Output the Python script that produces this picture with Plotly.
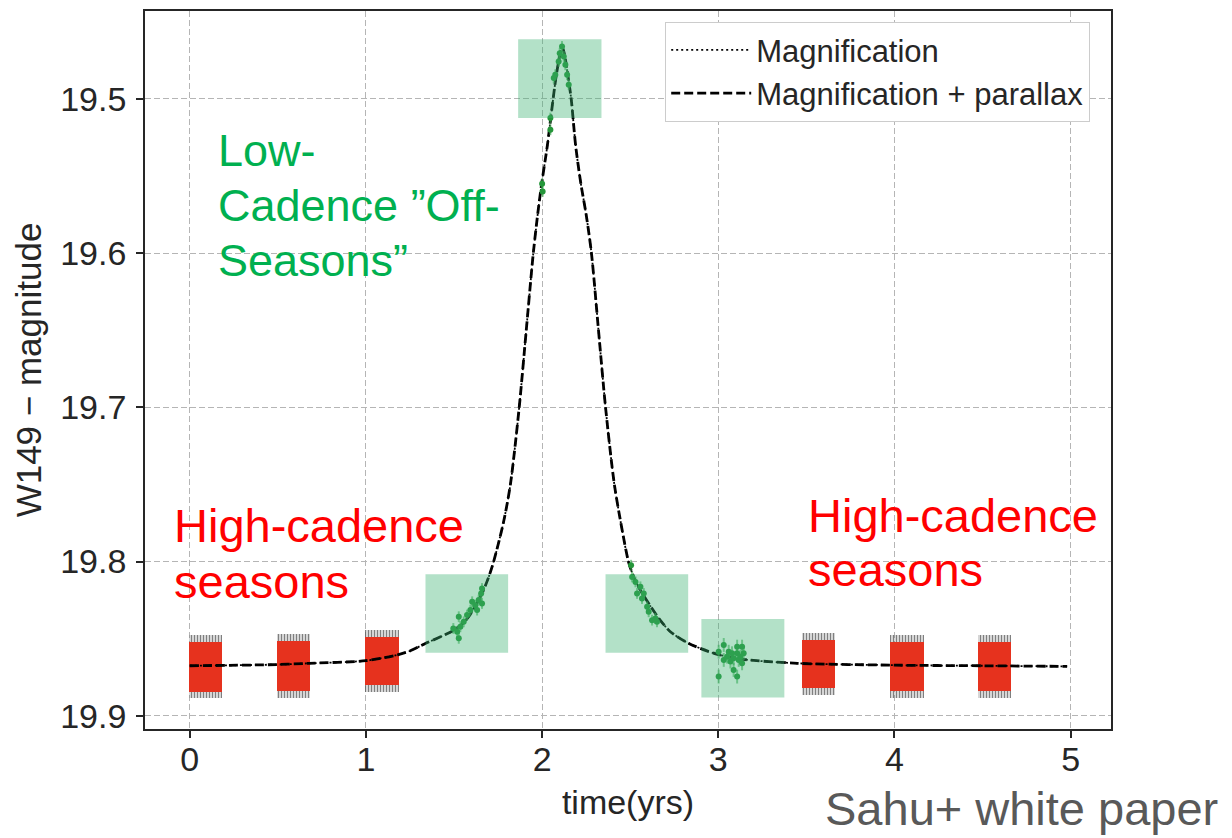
import plotly.graph_objects as go

# ---------------- data ----------------
# model light curve
curve_t = [0.00, 0.50, 0.675, 1.00, 1.18, 1.25, 1.34, 1.42, 1.50, 1.56, 1.60, 1.66, 1.70,
           1.725, 1.78, 1.82, 1.87, 1.91, 1.95, 1.98, 2.00, 2.03, 2.057, 2.08, 2.10, 2.113,
           2.125, 2.14, 2.165, 2.19, 2.22, 2.25, 2.28, 2.32, 2.36, 2.41, 2.455, 2.49, 2.52,
           2.56, 2.615, 2.67, 2.728, 2.83, 2.99, 3.14, 3.45, 4.00, 4.50, 4.98]
curve_mag = [19.8676, 19.8668, 19.8660, 19.8643, 19.8605, 19.8580, 19.8530, 19.8490, 19.8445,
             19.8390, 19.8330, 19.8205, 19.8090, 19.8000, 19.7750, 19.7500, 19.7000, 19.6500,
             19.6000, 19.5700, 19.5530, 19.5300, 19.5050, 19.4850, 19.4720, 19.4660, 19.4700,
             19.4800, 19.5000, 19.5300, 19.5550, 19.5750, 19.6000, 19.6500, 19.7000, 19.7500,
             19.7800, 19.8000, 19.8100, 19.8190, 19.8290, 19.8380, 19.8455, 19.8530, 19.8600,
             19.8634, 19.8660, 19.8672, 19.8676, 19.8680]

# high-cadence seasons (red blocks of dense photometry)
season_start = [-0.005, 0.495, 0.995, 3.475, 3.975, 4.475]
season_end = [0.185, 0.685, 1.185, 3.665, 4.165, 4.662]
season_bright = [19.8520, 19.8515, 19.8490, 19.8510, 19.8520, 19.8520]
season_faint = [19.8843, 19.8840, 19.8800, 19.8820, 19.8840, 19.8840]
season_err = [0.0045, 0.0045, 0.0045, 0.0045, 0.0045, 0.0045]

# low-cadence off-season points
green_t = [1.496, 1.518, 1.527, 1.527, 1.536, 1.555, 1.574, 1.593, 1.603, 1.621, 1.631, 1.640, 1.654, 1.659, 1.659,
           2.000, 2.003, 2.047, 2.047, 2.066, 2.075, 2.094, 2.100, 2.113, 2.123, 2.132, 2.142, 2.151,
           2.505, 2.511, 2.530, 2.539, 2.558, 2.567, 2.577, 2.596, 2.605, 2.624, 2.643, 2.652,
           3.002, 3.002, 3.031, 3.031, 3.050, 3.059, 3.069, 3.078, 3.087, 3.087, 3.107, 3.107, 3.107,
           3.116, 3.125, 3.135, 3.135, 3.144]
green_mag = [19.8434, 19.8455, 19.8498, 19.8358, 19.8423, 19.8391, 19.8347, 19.8315, 19.8261, 19.8283,
             19.8315, 19.8250, 19.8207, 19.8175, 19.8272,
             19.5550, 19.5600, 19.5124, 19.5200, 19.4865, 19.4843, 19.4757, 19.4704, 19.4660, 19.4725,
             19.4779, 19.4843, 19.4908,
             19.8024, 19.8100, 19.8132, 19.8207, 19.8164, 19.8240, 19.8207, 19.8294, 19.8326, 19.8380,
             19.8369, 19.8391,
             19.8585, 19.8746, 19.8541, 19.8638, 19.8617, 19.8585, 19.8649, 19.8595, 19.8627, 19.8703,
             19.8552, 19.8595, 19.8746, 19.8638, 19.8617, 19.8552, 19.8660, 19.8595]
green_err = [0.0035, 0.0035, 0.0035, 0.0035, 0.0035, 0.0035, 0.0035, 0.0035, 0.0035, 0.0035,
             0.0035, 0.0035, 0.0035, 0.0035, 0.0035,
             0.0035, 0.0035, 0.0035, 0.0035, 0.0035, 0.0035, 0.0035, 0.0035, 0.0035, 0.0035,
             0.0035, 0.0035, 0.0035,
             0.0035, 0.0035, 0.0035, 0.0035, 0.0035, 0.0035, 0.0035, 0.0035, 0.0035, 0.0035,
             0.0035, 0.0035,
             0.0045, 0.0045, 0.0045, 0.0045, 0.0045, 0.0045, 0.0045, 0.0045, 0.0045, 0.0045,
             0.0045, 0.0045, 0.0045, 0.0045, 0.0045, 0.0045, 0.0045, 0.0045]

# highlighted off-season boxes
box_t0 = [1.338, 1.864, 2.360, 2.904]
box_t1 = [1.807, 2.337, 2.829, 3.375]
box_m0 = [19.8082, 19.4614, 19.8082, 19.8373]
box_m1 = [19.8591, 19.5124, 19.8591, 19.8882]

x_ticks = [0, 1, 2, 3, 4, 5]
y_ticks = [19.5, 19.6, 19.7, 19.8, 19.9]

# ---------------- figure ----------------
W, H = 1232, 838
ML, MR, MT, MB = 145, 121, 9, 109
PW, PH = W - ML - MR, H - MT - MB


def px(xpix):
    return (xpix - ML) / PW


def py(ypix):
    return (H - MB - ypix) / PH


FONT = "Liberation Sans, Arial, sans-serif"
TXT = "#262626"

fig = go.Figure()

centers = [(a + b) / 2 for a, b in zip(season_start, season_end)]
widths = [b - a for a, b in zip(season_start, season_end)]

# grey error-bar fuzz behind the red blocks
fig.add_trace(go.Bar(
    x=centers, width=widths,
    base=[b - e for b, e in zip(season_bright, season_err)],
    y=[f - b + 2 * e for b, f, e in zip(season_bright, season_faint, season_err)],
    marker=dict(color="rgba(0,0,0,0)", line=dict(width=0),
                pattern=dict(shape="|", fgcolor="rgba(95,95,95,0.8)", bgcolor="rgba(0,0,0,0)",
                             size=3, solidity=0.55, fillmode="replace")),
    showlegend=False, hoverinfo="skip"))

# model curves
fig.add_trace(go.Scatter(x=curve_t, y=curve_mag, mode="lines", name="Magnification",
                         line=dict(color="black", width=1.8, dash="2px,3px", shape="spline", smoothing=0.8)))
fig.add_trace(go.Scatter(x=curve_t, y=curve_mag, mode="lines", name="Magnification + parallax",
                         line=dict(color="black", width=2.8, dash="9px,4px", shape="spline", smoothing=0.8)))

# red high-cadence blocks
fig.add_trace(go.Bar(
    x=centers, width=widths, base=season_bright,
    y=[f - b for b, f in zip(season_bright, season_faint)],
    marker=dict(color="#e6321e", line=dict(width=0)),
    showlegend=False, hoverinfo="skip"))

# green low-cadence points
fig.add_trace(go.Scatter(
    x=green_t, y=green_mag, mode="markers",
    marker=dict(color="#25963a", size=6),
    error_y=dict(type="data", array=green_err, visible=True, color="rgba(60,170,80,0.6)",
                 thickness=2, width=0),
    showlegend=False, hoverinfo="skip"))

# highlight boxes
for a, b, c, d in zip(box_t0, box_t1, box_m0, box_m1):
    fig.add_shape(type="rect", xref="x", yref="y", x0=a, x1=b, y0=c, y1=d,
                  fillcolor="rgba(60,179,113,0.39)", line=dict(width=0), layer="above")


# text annotations
def label(text, xpix, ybase, size, color):
    fig.add_annotation(text=text, xref="paper", yref="paper", x=px(xpix), y=py(ybase - 0.35 * size),
                       xanchor="left", yanchor="middle", showarrow=False,
                       font=dict(family=FONT, size=size, color=color))


GREEN = "#00b050"
RED = "#ff0000"
label("Low-", 216, 165, 45, GREEN)
label("Cadence \u201dOff-", 216, 220, 45, GREEN)
label("Seasons\u201d", 216, 275, 45, GREEN)
label("High-cadence", 172, 541, 47, RED)
label("seasons", 172, 598, 47, RED)
label("High-cadence", 806, 531, 47, RED)
label("seasons", 806, 586, 47, RED)
label("Sahu+ white paper", 823, 825, 47, "#595959")

fig.update_layout(
    width=W, height=H, autosize=False,
    margin=dict(l=ML, r=MR, t=MT, b=MB, pad=0),
    paper_bgcolor="white", plot_bgcolor="white",
    barmode="overlay", bargap=0,
    font=dict(family=FONT, color=TXT),
    legend=dict(x=px(665), y=py(20), xanchor="left", yanchor="top",
                bgcolor="white", bordercolor="#cccccc", borderwidth=1.2,
                itemwidth=80,
                font=dict(family=FONT, size=31, color=TXT), tracegroupgap=0),
    showlegend=True,
)

fig.update_xaxes(range=[-0.254, 5.229], tickvals=x_ticks, ticktext=[str(v) for v in x_ticks],
                 showline=True, linecolor=TXT, linewidth=1.6, mirror=True,
                 ticks="outside", ticklen=7, tickwidth=1.5, tickcolor=TXT,
                 tickfont=dict(family=FONT, size=34, color=TXT), ticklabelstandoff=-8,
                 showgrid=True, gridcolor="#b5b5b5", gridwidth=1, griddash="6px,3px",
                 zeroline=False,
                 title=dict(text="time(yrs)", font=dict(family=FONT, size=34, color=TXT), standoff=14))
fig.update_yaxes(range=[19.9086, 19.443], tickvals=y_ticks, ticktext=["%.1f" % v for v in y_ticks],
                 showline=True, linecolor=TXT, linewidth=1.6, mirror=True,
                 ticks="outside", ticklen=7, tickwidth=1.5, tickcolor=TXT,
                 tickfont=dict(family=FONT, size=34, color=TXT), ticklabelstandoff=3,
                 showgrid=True, gridcolor="#b5b5b5", gridwidth=1, griddash="6px,3px",
                 zeroline=False,
                 title=dict(text="W149 \u2212 magnitude", font=dict(family=FONT, size=35, color=TXT), standoff=8))

fig.write_html("out.html")
